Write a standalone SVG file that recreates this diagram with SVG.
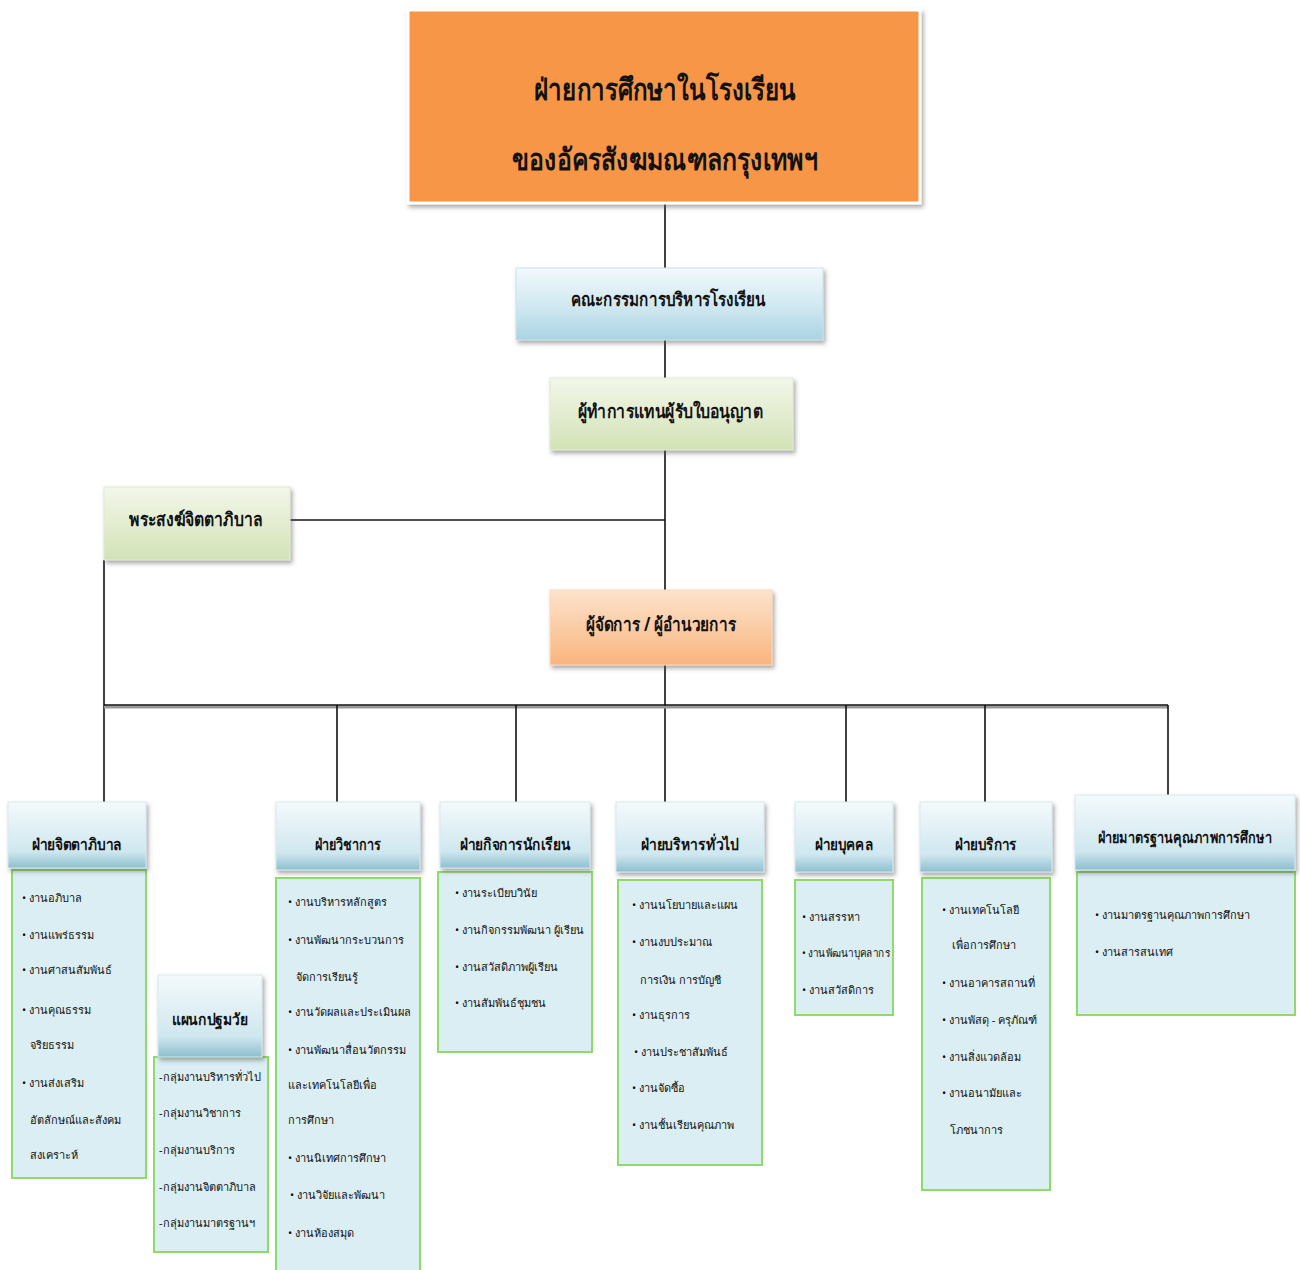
<svg xmlns="http://www.w3.org/2000/svg" width="1300" height="1270" viewBox="0 0 1300 1270">
<defs>
<style>
text{font-family:"Noto Sans","DejaVu Sans",sans-serif;fill:#111}
.t{font-size:30px;font-weight:bold;text-anchor:middle}
.n{font-size:19px;font-weight:bold;text-anchor:middle}
.h{font-size:16px;font-weight:bold;text-anchor:middle}
.i{font-size:11px}
.ln{stroke:#111;stroke-width:1.6;fill:none}
.body{fill:#DBEEF4;stroke:#8FDB6A;stroke-width:2}
</style>
<linearGradient id="gBlue" x1="0" y1="0" x2="0" y2="1"><stop offset="0" stop-color="#F2F9FC"/><stop offset="0.6" stop-color="#CBE6EF"/><stop offset="1" stop-color="#A9D3E1"/></linearGradient>
<linearGradient id="gHead" x1="0" y1="0" x2="0" y2="1"><stop offset="0" stop-color="#F4FAFC"/><stop offset="0.75" stop-color="#CFE7EF"/><stop offset="1" stop-color="#8DBFCF"/></linearGradient>
<linearGradient id="gGreen" x1="0" y1="0" x2="0" y2="1"><stop offset="0" stop-color="#F3F7EA"/><stop offset="1" stop-color="#D3E2B6"/></linearGradient>
<linearGradient id="gOr" x1="0" y1="0" x2="0" y2="1"><stop offset="0" stop-color="#FDE3CC"/><stop offset="1" stop-color="#F9B57E"/></linearGradient>
<filter id="sh" x="-10%" y="-10%" width="125%" height="135%"><feDropShadow dx="2" dy="3" stdDeviation="2" flood-color="#555" flood-opacity="0.5"/></filter>
</defs>

<g id="connectors">
<line class="ln" x1="665" y1="203" x2="665" y2="268"/>
<line class="ln" x1="665" y1="340" x2="665" y2="378"/>
<line class="ln" x1="665" y1="450" x2="665" y2="590"/>
<line class="ln" x1="290" y1="520" x2="665" y2="520"/>
<line class="ln" x1="104" y1="560" x2="104" y2="802"/>
<line class="ln" x1="665" y1="665" x2="665" y2="802"/>
<line x1="104" y1="707" x2="1168" y2="707" stroke="#999" stroke-width="3"/>
<line class="ln" x1="104" y1="705" x2="1168" y2="705"/>
<line class="ln" x1="337" y1="705" x2="337" y2="802"/>
<line class="ln" x1="516" y1="705" x2="516" y2="802"/>
<line class="ln" x1="846" y1="705" x2="846" y2="802"/>
<line class="ln" x1="985" y1="705" x2="985" y2="802"/>
<line class="ln" x1="1168" y1="705" x2="1168" y2="795"/>
</g>

<g id="title">
<rect x="408" y="10" width="512" height="193" fill="#F79646" stroke="#fff" stroke-width="3" filter="url(#sh)"/>
<text class="t" x="665" y="100" textLength="262" lengthAdjust="spacingAndGlyphs">ฝ่ายการศึกษาในโรงเรียน</text>
<text class="t" x="665" y="170" textLength="306" lengthAdjust="spacingAndGlyphs">ของอัครสังฆมณฑลกรุงเทพฯ</text>
</g>

<g id="committee">
<rect x="516" y="268" width="307" height="72" fill="url(#gBlue)" stroke="#C9E3EC" filter="url(#sh)"/>
<text class="n" x="668" y="306" textLength="195" lengthAdjust="spacingAndGlyphs">คณะกรรมการบริหารโรงเรียน</text>
</g>

<g id="licensee">
<rect x="550" y="378" width="243" height="72" fill="url(#gGreen)" stroke="#E0EAD0" filter="url(#sh)"/>
<text class="n" x="670" y="418" textLength="185" lengthAdjust="spacingAndGlyphs">ผู้ทำการแทนผู้รับใบอนุญาต</text>
</g>

<g id="chaplain">
<rect x="104" y="487" width="186" height="73" fill="url(#gGreen)" stroke="#E0EAD0" filter="url(#sh)"/>
<text class="n" x="196" y="526" textLength="134" lengthAdjust="spacingAndGlyphs">พระสงฆ์จิตตาภิบาล</text>
</g>

<g id="director">
<rect x="550" y="590" width="222" height="75" fill="url(#gOr)" stroke="#FBD9BC" filter="url(#sh)"/>
<text class="n" x="661" y="631" textLength="150" lengthAdjust="spacingAndGlyphs">ผู้จัดการ / ผู้อำนวยการ</text>
</g>

<g id="dept-pastoral">
<rect class="body" x="12" y="870" width="134" height="308"/>
<rect x="8" y="802" width="138" height="66" fill="url(#gHead)" stroke="#D5E9F0" filter="url(#sh)"/>
<text class="h" x="77" y="850" textLength="90" lengthAdjust="spacingAndGlyphs">ฝ่ายจิตตาภิบาล</text>
<text class="i" x="22" y="902">• งานอภิบาล</text>
<text class="i" x="22" y="939">• งานแพร่ธรรม</text>
<text class="i" x="22" y="974">• งานศาสนสัมพันธ์</text>
<text class="i" x="22" y="1014">• งานคุณธรรม</text>
<text class="i" x="30" y="1049">จริยธรรม</text>
<text class="i" x="22" y="1087">• งานส่งเสริม</text>
<text class="i" x="30" y="1124">อัตลักษณ์และสังคม</text>
<text class="i" x="30" y="1159">สงเคราะห์</text>
</g>

<g id="dept-early">
<rect class="body" x="154" y="1057" width="114" height="195"/>
<rect x="158" y="975" width="104" height="82" fill="url(#gHead)" stroke="#D5E9F0" filter="url(#sh)"/>
<text class="h" x="210" y="1025" textLength="76" lengthAdjust="spacingAndGlyphs">แผนกปฐมวัย</text>
<text class="i" x="159" y="1081">-กลุ่มงานบริหารทั่วไป</text>
<text class="i" x="159" y="1117">-กลุ่มงานวิชาการ</text>
<text class="i" x="159" y="1154">-กลุ่มงานบริการ</text>
<text class="i" x="159" y="1191">-กลุ่มงานจิตตาภิบาล</text>
<text class="i" x="159" y="1227">-กลุ่มงานมาตรฐานฯ</text>
</g>

<g id="dept-academic">
<rect class="body" x="276" y="878" width="144" height="400"/>
<rect x="276" y="802" width="144" height="68" fill="url(#gHead)" stroke="#D5E9F0" filter="url(#sh)"/>
<text class="h" x="348" y="850" textLength="66" lengthAdjust="spacingAndGlyphs">ฝ่ายวิชาการ</text>
<text class="i" x="288" y="906">• งานบริหารหลักสูตร</text>
<text class="i" x="288" y="944">• งานพัฒนากระบวนการ</text>
<text class="i" x="296" y="981">จัดการเรียนรู้</text>
<text class="i" x="288" y="1016">• งานวัดผลและประเมินผล</text>
<text class="i" x="288" y="1054">• งานพัฒนาสื่อนวัตกรรม</text>
<text class="i" x="288" y="1089">และเทคโนโลยีเพื่อ</text>
<text class="i" x="288" y="1124">การศึกษา</text>
<text class="i" x="288" y="1162">• งานนิเทศการศึกษา</text>
<text class="i" x="290" y="1199">• งานวิจัยและพัฒนา</text>
<text class="i" x="288" y="1237">• งานห้องสมุด</text>
</g>

<g id="dept-student">
<rect class="body" x="438" y="872" width="154" height="180"/>
<rect x="440" y="802" width="150" height="66" fill="url(#gHead)" stroke="#D5E9F0" filter="url(#sh)"/>
<text class="h" x="515" y="850" textLength="110" lengthAdjust="spacingAndGlyphs">ฝ่ายกิจการนักเรียน</text>
<text class="i" x="455" y="897">• งานระเบียบวินัย</text>
<text class="i" x="455" y="934">• งานกิจกรรมพัฒนา ผู้เรียน</text>
<text class="i" x="455" y="971">• งานสวัสดิภาพผู้เรียน</text>
<text class="i" x="455" y="1007">• งานสัมพันธ์ชุมชน</text>
</g>

<g id="dept-admin">
<rect class="body" x="618" y="880" width="144" height="285"/>
<rect x="616" y="802" width="148" height="70" fill="url(#gHead)" stroke="#D5E9F0" filter="url(#sh)"/>
<text class="h" x="690" y="850" textLength="98" lengthAdjust="spacingAndGlyphs">ฝ่ายบริหารทั่วไป</text>
<text class="i" x="632" y="909">• งานนโยบายและแผน</text>
<text class="i" x="632" y="946">• งานงบประมาณ</text>
<text class="i" x="640" y="984">การเงิน การบัญชี</text>
<text class="i" x="632" y="1019">• งานธุรการ</text>
<text class="i" x="634" y="1056">• งานประชาสัมพันธ์</text>
<text class="i" x="632" y="1092">• งานจัดซื้อ</text>
<text class="i" x="632" y="1129">• งานชั้นเรียนคุณภาพ</text>
</g>

<g id="dept-personnel">
<rect class="body" x="795" y="880" width="98" height="135"/>
<rect x="795" y="802" width="98" height="70" fill="url(#gHead)" stroke="#D5E9F0" filter="url(#sh)"/>
<text class="h" x="844" y="850" textLength="58" lengthAdjust="spacingAndGlyphs">ฝ่ายบุคคล</text>
<text class="i" x="802" y="921">• งานสรรหา</text>
<text class="i" x="802" y="957" textLength="88" lengthAdjust="spacingAndGlyphs">• งานพัฒนาบุคลากร</text>
<text class="i" x="802" y="994">• งานสวัสดิการ</text>
</g>

<g id="dept-service">
<rect class="body" x="922" y="878" width="128" height="312"/>
<rect x="920" y="802" width="132" height="70" fill="url(#gHead)" stroke="#D5E9F0" filter="url(#sh)"/>
<text class="h" x="986" y="850" textLength="62" lengthAdjust="spacingAndGlyphs">ฝ่ายบริการ</text>
<text class="i" x="942" y="914">• งานเทคโนโลยี</text>
<text class="i" x="952" y="949">เพื่อการศึกษา</text>
<text class="i" x="942" y="987">• งานอาคารสถานที่</text>
<text class="i" x="942" y="1024">• งานพัสดุ - ครุภัณฑ์</text>
<text class="i" x="942" y="1061">• งานสิ่งแวดล้อม</text>
<text class="i" x="942" y="1097">• งานอนามัยและ</text>
<text class="i" x="950" y="1134">โภชนาการ</text>
</g>

<g id="dept-quality">
<rect class="body" x="1077" y="872" width="218" height="143"/>
<rect x="1075" y="795" width="220" height="75" fill="url(#gHead)" stroke="#D5E9F0" filter="url(#sh)"/>
<text class="h" x="1185" y="843" textLength="174" lengthAdjust="spacingAndGlyphs">ฝ่ายมาตรฐานคุณภาพการศึกษา</text>
<text class="i" x="1095" y="919">• งานมาตรฐานคุณภาพการศึกษา</text>
<text class="i" x="1095" y="956">• งานสารสนเทศ</text>
</g>
</svg>
